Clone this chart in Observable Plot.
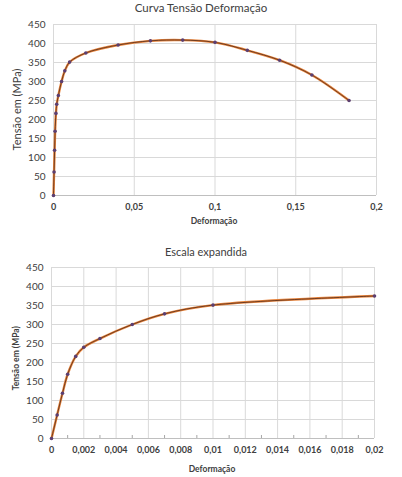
<!DOCTYPE html>
<html><head><meta charset="utf-8">
<script src="https://cdn.jsdelivr.net/npm/d3@7"></script>
<script src="https://cdn.jsdelivr.net/npm/@observablehq/plot@0.6"></script>
<style>
body{margin:0;background:#fff;font-family:Lato,"Open Sans",sans-serif;}
#wrap{position:relative;width:402px;height:477px;overflow:hidden;background:#fff}
.abs{position:absolute;color:#404040;white-space:nowrap;line-height:1}
.chart{position:absolute;left:0}
</style></head><body><div id="wrap"></div>
<script>
// Data
const strain = [0, 0.00035, 0.00068, 0.001, 0.0015, 0.002, 0.003, 0.005, 0.007, 0.01, 0.02, 0.04, 0.06, 0.08, 0.1, 0.12, 0.14, 0.16, 0.183];
const stress = [0, 62, 119, 169, 216, 240, 263, 300, 328, 351, 375, 396, 407, 409, 403, 382, 356, 317, 250];
const yTicks = [0, 50, 100, 150, 200, 250, 300, 350, 400, 450];
const xTicksFull = [0, 0.05, 0.1, 0.15, 0.2];
const xTicksZoom = [0, 0.002, 0.004, 0.006, 0.008, 0.01, 0.012, 0.014, 0.016, 0.018, 0.02];
const xMinorZoom = [0.001, 0.003, 0.005, 0.007, 0.009, 0.011, 0.013, 0.015, 0.017, 0.019];
const titles = ["Curva Tensão Deformação", "Escala expandida"];
const xLabel = "Deformação";
const yLabel = "Tensão em (MPa)";

const rows = strain.map((x, i) => ({x, y: stress[i]}));
const zoomRows = rows.filter(d => d.x <= 0.02);
const fmt = d => String(d).replace(".", ",");

function chart(data, xDomain, xTicks, minor, opts) {
  const marks = [
    Plot.gridY(yTicks, {stroke: "#d9d9d9", strokeOpacity: 1}),
    Plot.gridX(xTicks, {stroke: "#d9d9d9", strokeOpacity: 1}),
    Plot.ruleY([0], {stroke: "#bfbfbf"}),
    Plot.axisY(yTicks, {tickSize: 0, tickPadding: 8, fontSize: opts.yFont, fill: "#404040", label: null}),
    Plot.axisX(xTicks, {tickSize: 0, tickPadding: 8, tickFormat: fmt, fontSize: 9, fontWeight: "bold", fill: "#404040", label: null})
  ];
  if (minor) marks.push(Plot.axisX(minor, {tickSize: 3, dy: -3, tickFormat: () => "", stroke: "#a6a6a6", label: null}));
  marks.push(
    Plot.line(data, {x: "x", y: "y", curve: "catmull-rom", stroke: "#e8843c", strokeWidth: 2.4}),
    Plot.line(data, {x: "x", y: "y", curve: "catmull-rom", stroke: "#3b1d14", strokeWidth: 0.7}),
    Plot.dot(data, {x: "x", y: "y", r: 1.8, fill: "#5b3f72", stroke: "none"})
  );
  return Plot.plot({
    width: 402, height: opts.height,
    marginTop: 24, marginBottom: opts.height - 195, marginLeft: opts.ml, marginRight: opts.mr,
    style: {fontFamily: "Lato, sans-serif", background: "transparent", overflow: "visible"},
    x: {domain: xDomain, label: null}, y: {domain: [0, 450], label: null},
    marks
  });
}

const wrap = document.getElementById("wrap");
function place(el, top) { el.classList.add("chart"); el.style.top = top + "px"; wrap.appendChild(el); }
function text(str, css) { const d = document.createElement("div"); d.className = "abs"; d.textContent = str; Object.assign(d.style, css); wrap.appendChild(d); return d; }

place(chart(rows, [0, 0.2], xTicksFull, null, {height: 235, ml: 53, mr: 26, yFont: 10}), 0);
place(chart(zoomRows, [0, 0.02], xTicksZoom, xMinorZoom, {height: 234, ml: 51, mr: 28, yFont: 10}), 243);

text(titles[0], {left: "0px", width: "402px", textAlign: "center", top: "2px", fontSize: "11.5px"});
text(titles[1], {left: "5px", width: "402px", textAlign: "center", top: "246px", fontSize: "11px"});
text(xLabel, {left: "164px", width: "100px", textAlign: "center", top: "217px", fontSize: "8.5px", fontWeight: "bold"});
text(xLabel, {left: "162px", width: "100px", textAlign: "center", top: "465px", fontSize: "8.5px", fontWeight: "bold"});
text(yLabel, {left: "-44px", width: "120px", textAlign: "center", top: "104px", fontSize: "11px", transform: "rotate(-90deg)"});
text(yLabel, {left: "-44px", width: "120px", textAlign: "center", top: "354px", fontSize: "8.5px", fontWeight: "bold", transform: "rotate(-90deg)"});
</script></body></html>
